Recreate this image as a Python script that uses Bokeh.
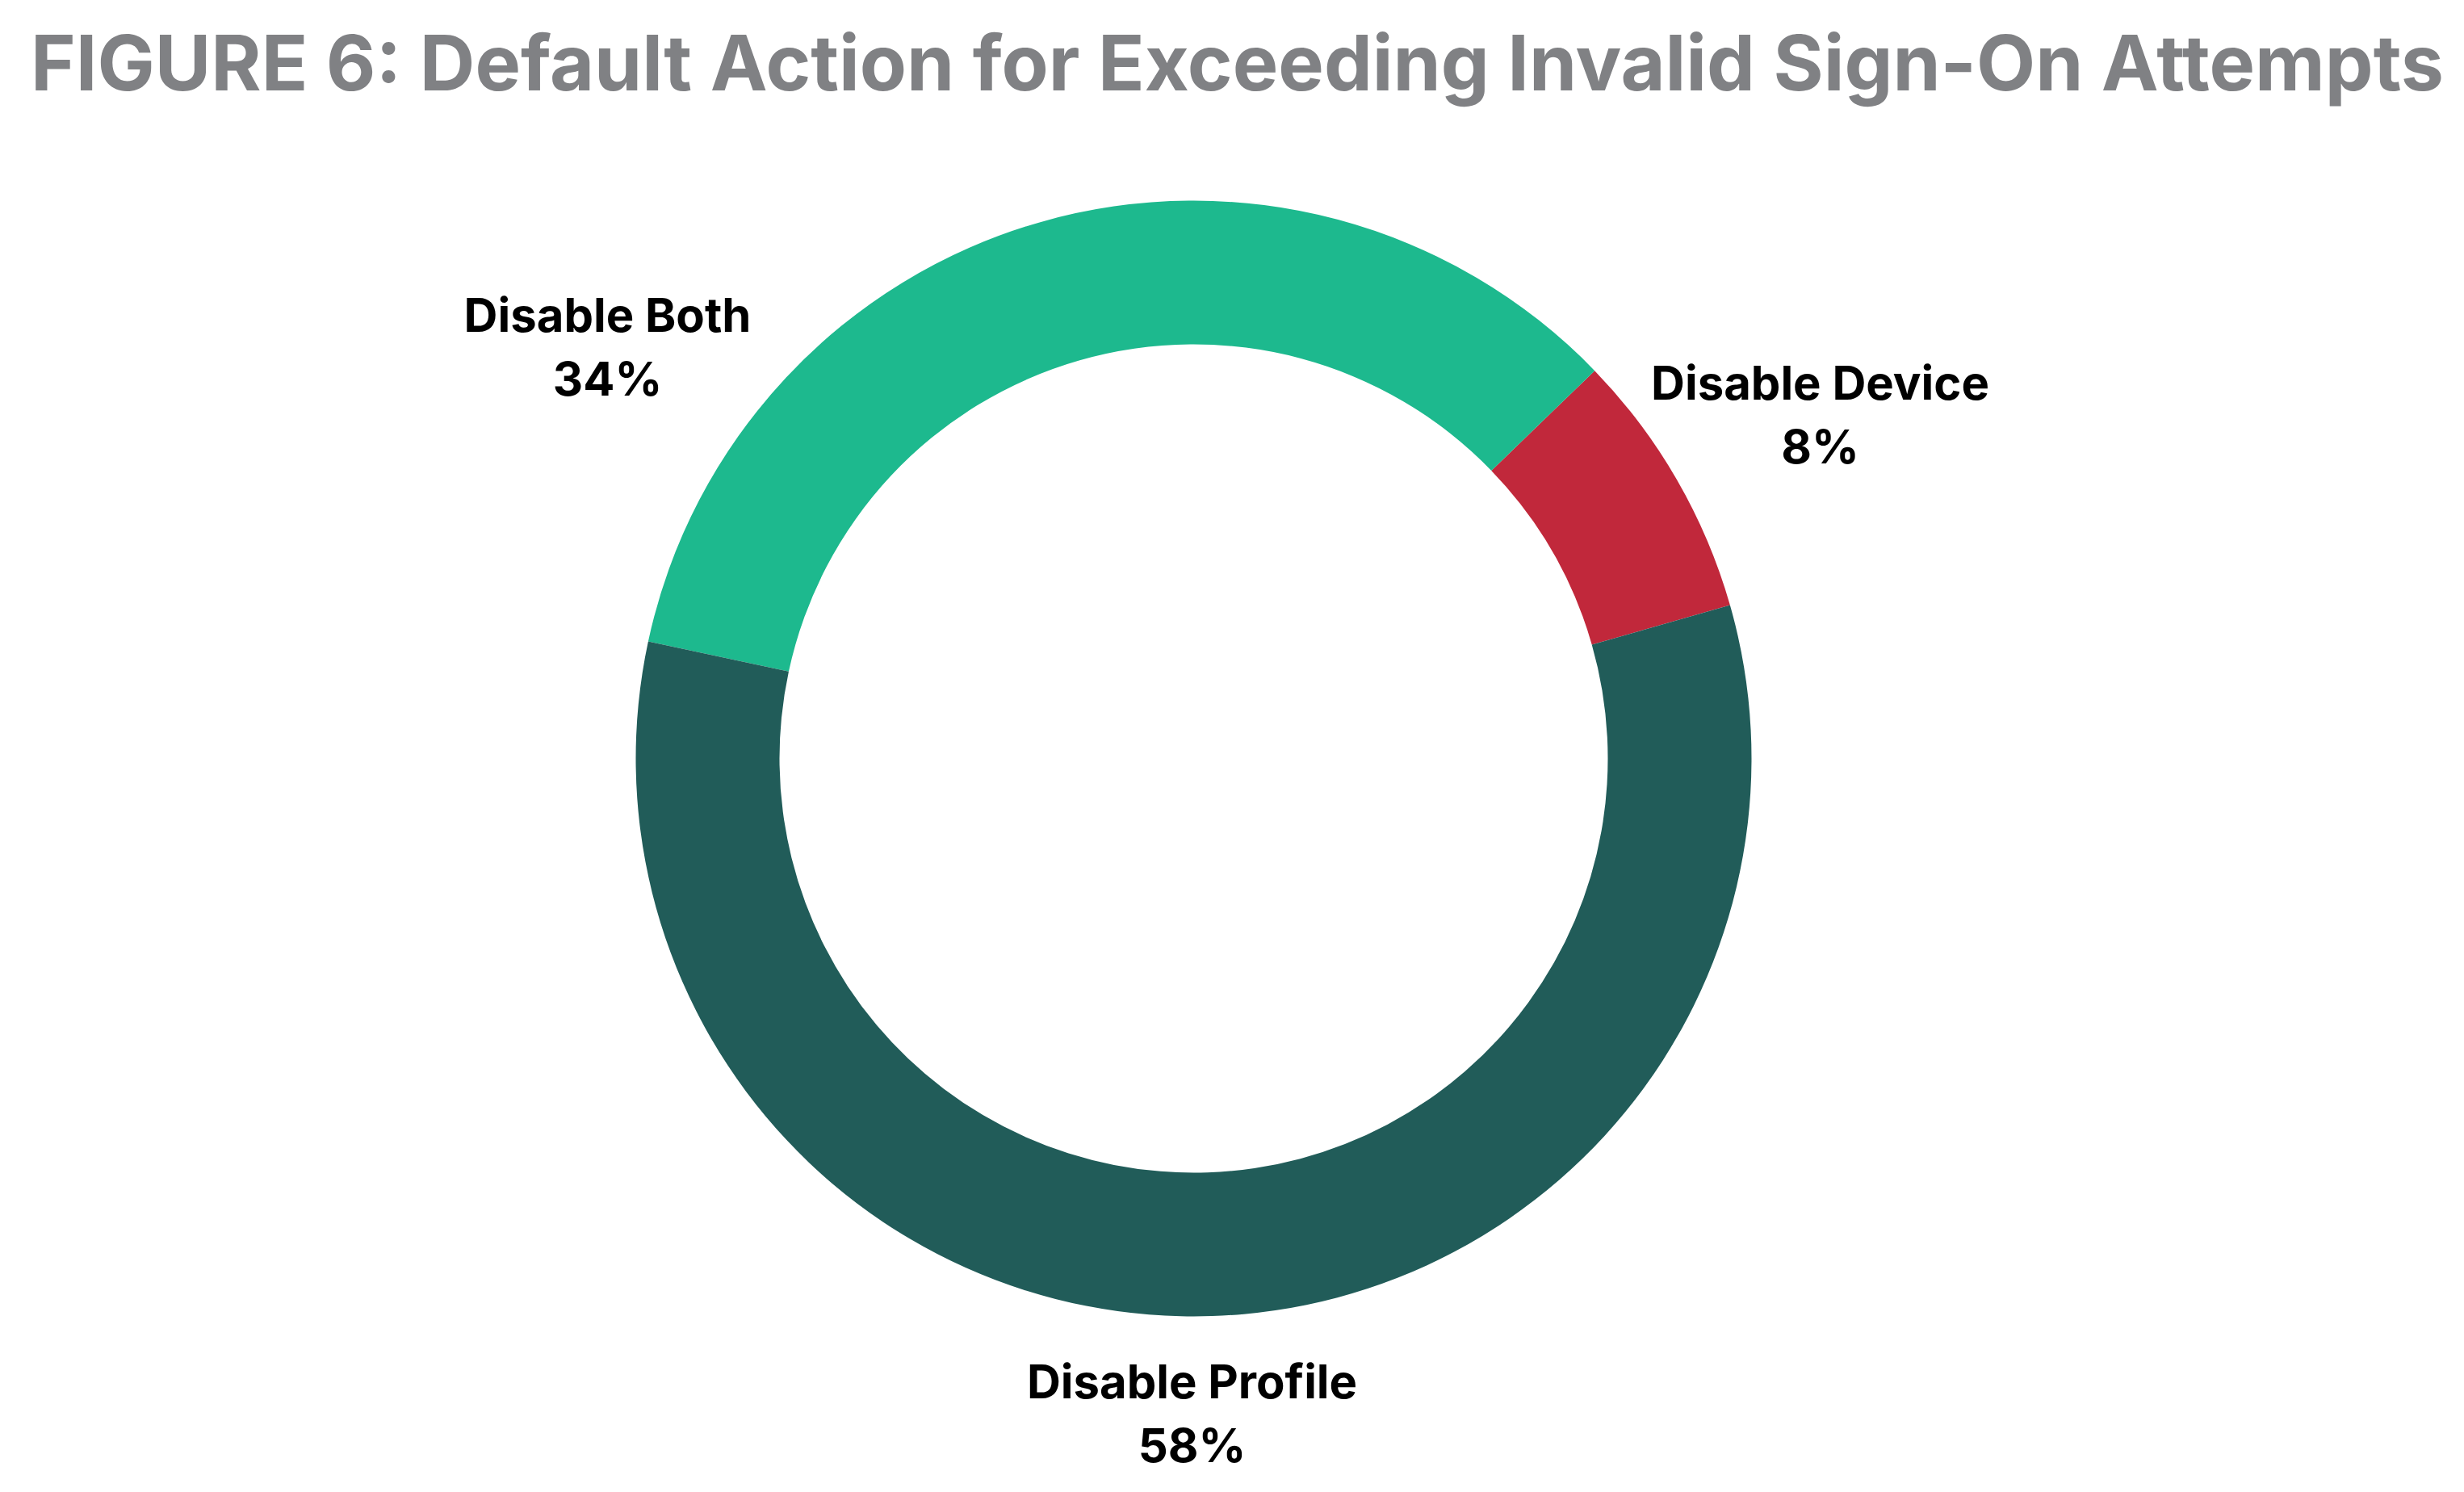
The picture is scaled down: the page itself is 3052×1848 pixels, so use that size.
import math
from bokeh.plotting import figure
from bokeh.models import Range1d, ColumnDataSource
from bokeh.core.properties import value
from bokeh.embed import file_html
from bokeh.resources import INLINE

# ---- data ----
categories = ["Disable Device", "Disable Both", "Disable Profile"]
shares = [7.8, 34.4, 57.8]
colors = ["#C1283B", "#1DB98E", "#215C59"]
title_text = "FIGURE 6: Default Action for Exceeding Invalid Sign-On Attempts"

# ---- layout (image pixel coords -> data coords) ----
W, H = 3036, 1832
def dx(px):
    return px - 8
def dy(py):
    return H + 8 - py

cx, cy = dx(1486), dy(947)
R_OUT, R_IN = 691, 513
start_deg = 15.96

total = sum(shares)
starts, ends = [], []
a = math.radians(start_deg)
for v in shares:
    starts.append(a)
    a = a + v / total * 2 * math.pi
    ends.append(a)

src = ColumnDataSource(dict(start=starts, end=ends, color=colors))

p = figure(width=W, height=H, output_backend="svg", toolbar_location=None,
           x_range=Range1d(0, W), y_range=Range1d(0, H),
           min_border=0, outline_line_color=None)
p.axis.visible = False
p.grid.visible = False
p.background_fill_color = "white"
p.border_fill_color = "white"

p.annular_wedge(x=cx, y=cy, inner_radius=R_IN, outer_radius=R_OUT,
                inner_radius_units="screen", outer_radius_units="screen",
                start_angle="start", end_angle="end", color="color",
                line_color=None, source=src)

LABEL_FS = 58
TITLE_FS = 95
BASE_ADJ = 0.28  # compensation so that glyph baseline lands at target

# label anchor positions (image pixels: centre x, baseline of first line)
label_pos = {"Disable Both": (760, 414), "Disable Device": (2262, 498),
             "Disable Profile": (1484, 1735)}
line_gap = 79
lx, ly, lt = [], [], []
for c, v in zip(categories, shares):
    px, py = label_pos[c]
    py = py - BASE_ADJ * LABEL_FS
    lx += [dx(px), dx(px)]
    ly += [dy(py), dy(py + line_gap)]
    lt += [c, f"{round(v)}%"]

p.text(x=lx, y=ly, text=lt, text_align="center", text_baseline="alphabetic",
       text_font=value("Inter"), text_font_style="bold",
       text_font_size=f"{LABEL_FS}px", text_color="black")

p.text(x=[dx(1540)], y=[dy(112 - BASE_ADJ * TITLE_FS)], text=[title_text],
       text_align="center", text_baseline="alphabetic",
       text_font=value("Inter"), text_font_style="bold",
       text_font_size=f"{TITLE_FS}px", text_color="#808184")

open("out.html", "w").write(file_html(p, INLINE))
